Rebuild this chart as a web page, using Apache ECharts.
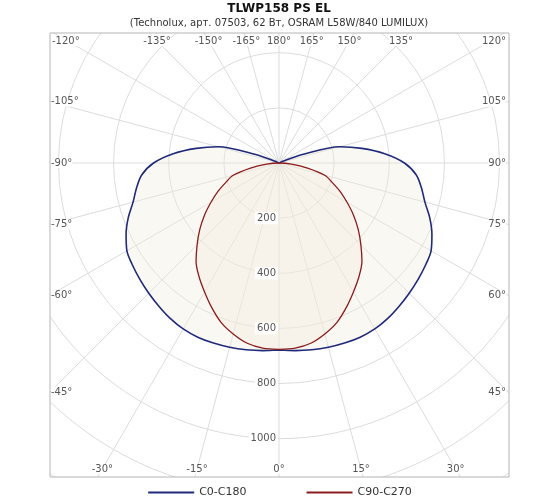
<!DOCTYPE html>
<html>
<head>
<meta charset="utf-8">
<script src="https://cdn.jsdelivr.net/npm/echarts@6/dist/echarts.min.js"></script>
<style>
  html, body { margin: 0; padding: 0; background: #fff; }
  #main { width: 560px; height: 504px; }
</style>
</head>
<body>
<div id="main"></div>
<script>
// angles measured from nadir, 0..180 (one half, mirrored for the other side)
var angles = [0, 5, 10, 15, 20, 25, 30, 35, 40, 45, 50, 55, 60, 65, 70, 75, 80, 85, 90,
  95, 100, 105, 110, 115, 120, 135, 150, 165, 180];
var c0c180 = [678, 683, 688, 692, 695, 697, 695, 688, 678, 668, 658, 648, 637, 612, 582, 548, 525, 500, 455,
  385, 305, 228, 90, 15, 0, 0, 0, 0, 0];
var c90c270 = [676, 674, 664, 642, 615, 578, 540, 505, 468, 420, 375, 330, 285, 245, 205, 172, 105, 45, 0,
  0, 0, 0, 0, 0, 0, 0, 0, 0, 0];
var radialTicks = [200, 400, 600, 800, 1000];
var angleTicks = [-120, -135, -150, -165, 180, 165, 150, 135, 120, -105, -90, -75, -60, -45, 105, 90, 75, 60, 45,
  -30, -15, 0, 15, 30];

var cx = 279, cy = 163;
var box = { l: 50, r: 509, t: 33, b: 477 };
var pxPerUnit = 0.2757;

function loop(vals) {
  var d = [];
  for (var i = 0; i < angles.length; i++) d.push([vals[i], angles[i]]);
  for (var j = angles.length - 2; j >= 0; j--) d.push([vals[j], 360 - angles[j]]);
  return d;
}

var chartDom = document.getElementById("main");
var myChart = echarts.init(chartDom);
var gray = "#dcdcdc";
var option = {
  animation: false,
  textStyle: { fontFamily: "DejaVu Sans" },
  polar: { center: [cx, cy], radius: 1400 * pxPerUnit },
  angleAxis: {
    type: "value", min: 0, max: 360, interval: 15, startAngle: -90, clockwise: false,
    axisLine: { show: false }, axisTick: { show: false }, axisLabel: { show: false },
    splitLine: { show: true, lineStyle: { color: gray, width: 1 } }
  },
  radiusAxis: {
    min: 0, max: 1400, interval: 200,
    axisLine: { show: false }, axisTick: { show: false }, axisLabel: { show: false },
    splitLine: { show: true, lineStyle: { color: gray, width: 1 } }
  },
  legend: {
    bottom: 1, left: "center", z: 200, itemGap: 60, itemWidth: 46, itemHeight: 2, icon: "rect",
    textStyle: { color: "#333", fontSize: 11 },
    data: ["C0-C180", "C90-C270"]
  },
  series: [
    {
      name: "C0-C180", type: "line", coordinateSystem: "polar", showSymbol: false, smooth: 0.3,
      data: loop(c0c180), lineStyle: { color: "#1f2a7a", width: 1.6 }, itemStyle: { color: "#1f2a7a" },
      areaStyle: { color: "rgba(240,236,220,0.5)" }
    },
    {
      name: "C90-C270", type: "line", coordinateSystem: "polar", showSymbol: false, smooth: 0.3,
      data: loop(c90c270), lineStyle: { color: "#8b1c1c", width: 1.3 }, itemStyle: { color: "#8b1c1c" },
      areaStyle: { color: "rgba(240,236,220,0.5)" }
    }
  ]
};
myChart.setOption(option);

// mask the polar grid to the frame and add labels
var g = [
  { type: "rect", z: 100, shape: { x: 0, y: 0, width: 560, height: box.t }, style: { fill: "#fff" } },
  { type: "rect", z: 100, shape: { x: 0, y: box.b, width: 560, height: 504 - box.b }, style: { fill: "#fff" } },
  { type: "rect", z: 100, shape: { x: 0, y: 0, width: box.l, height: 504 }, style: { fill: "#fff" } },
  { type: "rect", z: 100, shape: { x: box.r, y: 0, width: 560 - box.r, height: 504 }, style: { fill: "#fff" } },
  { type: "rect", z: 101, shape: { x: box.l, y: box.t, width: box.r - box.l, height: box.b - box.t },
    style: { fill: null, stroke: "#b5b5b5", lineWidth: 1 } },
  { type: "text", z: 102, x: 279, y: 3, style: { text: "TLWP158 PS EL", font: "bold 12px DejaVu Sans", fill: "#111", align: "center" } },
  { type: "text", z: 102, x: 279, y: 18, style: { text: "(Technolux, арт. 07503, 62 Вт, OSRAM L58W/840 LUMILUX)", font: "10px DejaVu Sans", fill: "#333", align: "center" } }
];
radialTicks.forEach(function (r) {
  var p = myChart.convertToPixel({ polarIndex: 0 }, [r, 0]);
  g.push({ type: "text", z: 102, x: p[0] - 1, y: p[1], style: { text: String(r), font: "10px DejaVu Sans", fill: "#555",
    align: "right", verticalAlign: "middle", backgroundColor: "#fff", padding: [1, 2] } });
});
angleTicks.forEach(function (a) {
  var rad = a * Math.PI / 180;
  var dx = Math.sin(rad), dy = Math.cos(rad);
  var x, y, align = "center";
  if (Math.abs(a) >= 120) {
    y = box.t + 8; x = cx + dx / -dy * (cy - y);
    x = Math.max(box.l + 12, Math.min(box.r - 12, x));
    if (Math.abs(a) == 120) { align = a < 0 ? "left" : "right"; x = a < 0 ? box.l + 2 : box.r - 3; }
  } else if (Math.abs(a) >= 45) {
    x = a < 0 ? box.l + 1 : box.r - 3; align = a < 0 ? "left" : "right";
    y = cy + dy / Math.abs(dx) * (cx - box.l);
  } else {
    y = box.b - 8; x = cx + dx / dy * (y - cy);
  }
  g.push({ type: "text", z: 102, x: x, y: y, style: { text: a + "°", font: "10px DejaVu Sans", fill: "#555",
    align: align, verticalAlign: "middle", backgroundColor: "#fff" } });
});
myChart.setOption({ graphic: g });
</script>
</body>
</html>
